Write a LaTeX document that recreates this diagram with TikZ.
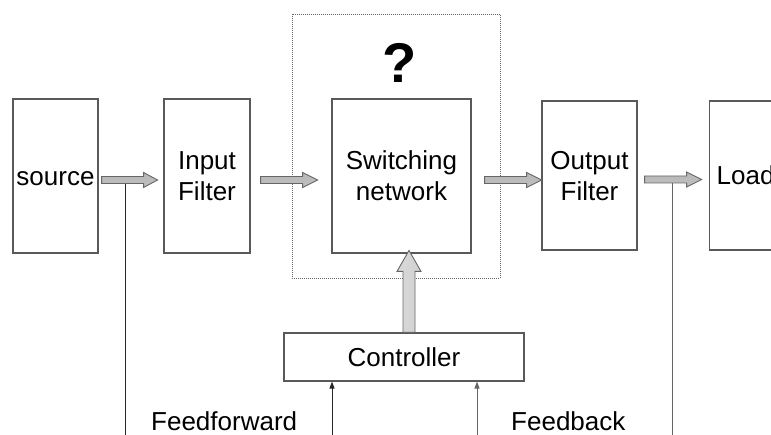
\documentclass[tikz,border=0pt]{standalone}
\usepackage{fontspec}
\setmainfont{Liberation Sans}
\usetikzlibrary{calc,arrows.meta}
\newcommand{\barrow}[7]{%
  \path[#1, shift={(#2)}, rotate=#3] (0,-#5) -- ({#4-#7},-#5) -- ({#4-#7},-#6) -- (#4,0)
    -- ({#4-#7},#6) -- ({#4-#7},#5) -- (0,#5) -- cycle;}
\tikzset{
  box/.style={draw=black!65, line width=1.1pt, inner sep=0pt, align=center,
    font=\fontsize{26}{31}\selectfont, text height=18.6pt, text depth=0pt},
  box2/.style={box, text height=49.6pt, text depth=0pt},
  harr/.style={draw=black!60, line width=0.9pt, top color=black!28, middle color=black!3, bottom color=black!25},
  varr/.style={draw=black!60, line width=0.9pt, left color=black!15, middle color=black!3, right color=black!18},
  sig/.style={line width=0.9pt, draw=black!85},
  sigarr/.style={sig, -{Triangle[length=7pt,width=5pt]}},
  lbl/.style={font=\fontsize{26}{31}\selectfont, inner sep=0pt, anchor=base west}
}
\begin{document}
\begin{tikzpicture}[x=1pt,y=-1pt]
\path[use as bounding box, clip] (0,0) rectangle (771,435);
\fill[white] (0,0) rectangle (771,435);
% dotted region
\node[draw=black!60, line width=0.8pt, dash pattern=on 1pt off 1pt, minimum width=208pt, minimum height=264pt, inner sep=0pt] (dotbox) at (396,146) {};
\node[font=\bfseries\fontsize{56}{56}\selectfont, inner sep=0pt, anchor=base] (q) at (400,83) {?};
% blocks
\node[box, minimum width=85pt, minimum height=154pt] (src) at (55.5,176) {source};
\node[box2, minimum width=86pt, minimum height=154pt] (inf) at (207,176) {Input\\Filter};
\node[box2, minimum width=139pt, minimum height=154pt] (sw) at (401.5,176) {Switching\\network};
\node[box2, minimum width=95pt, minimum height=149pt] (outf) at (589.5,175.5) {Output\\Filter};
\node[box, minimum width=85pt, minimum height=149pt, anchor=west] (load) at (709,175.5) {\hspace*{-13pt}Load};
\node[box, minimum width=240pt, minimum height=48pt] (ctrl) at (404,357) {Controller};
% arrow start points
\coordinate (a1s) at ($(src.east)+(3,4)$);
\coordinate (a2s) at ($(inf.east)+(10,4)$);
\coordinate (a3s) at ($(sw.east)+(13,4)$);
\coordinate (a4s) at ($(outf.east)+(7,4)$);
\coordinate (a5s) at ($(ctrl.north)+(5,0)$);
% signal lines
\coordinate (ffs) at ($(a1s)+(24,4)$);
\coordinate (fbs) at ($(a4s)+(28,4)$);
\coordinate (bot) at (0,440);
\draw[sig] (ffs) -- (ffs |- bot);
\draw[sig, draw=black!60] (fbs) -- (fbs |- bot);
\coordinate (ffin) at ($(ctrl.south)+(-72,0)$);
\coordinate (fbin) at ($(ctrl.south)+(73,0)$);
\draw[sigarr] (ffin |- bot) -- (ffin);
\draw[sigarr, draw=black!60] (fbin |- bot) -- (fbin);
% block arrows
\barrow{harr}{a1s}{0}{56}{3.5}{7.5}{14}
\barrow{harr}{a2s}{0}{57}{3.5}{7.5}{15}
\barrow{harr}{a3s}{0}{57}{3.5}{7.5}{15}
\barrow{harr}{a4s}{0}{57}{3.5}{7.5}{15}
\barrow{varr}{a5s}{90}{82}{6}{12}{21}
% labels
\node[lbl] (ff) at (151,430) {Feedforward};
\node[lbl] (fb) at (511,430) {Feedback};
\end{tikzpicture}
\end{document}
